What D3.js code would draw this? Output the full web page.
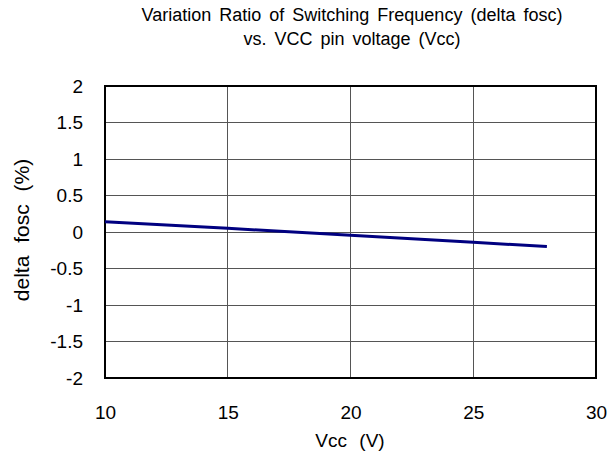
<!DOCTYPE html>
<html><head><meta charset="utf-8">
<script src="https://cdn.jsdelivr.net/npm/d3@7"></script>
<style>body{margin:0;background:#fff}svg{display:block}text{font-family:"Liberation Sans",Arial,sans-serif;fill:#000}</style>
</head><body>
<script>
const vcc = [10, 15, 20, 25, 28];
const deltaFosc = [0.14, 0.05, -0.045, -0.14, -0.2];
const xTicks = [10, 15, 20, 25, 30];
const yTicks = [-2, -1.5, -1, -0.5, 0, 0.5, 1, 1.5, 2];
const titleLines = ["Variation Ratio of Switching Frequency (delta fosc)", "vs. VCC pin voltage (Vcc)"];
const xLabel = "Vcc (V)";
const yLabel = "delta fosc (%)";

const W = 608, H = 466;
const L = 105, R = 596, T = 86, B = 378;
const FONT = '"Liberation Sans",Arial,sans-serif';
const svg = d3.select("body").append("svg").attr("width", W).attr("height", H);
const x = d3.scaleLinear().domain([10, 30]).range([L, R]);
const y = d3.scaleLinear().domain([-2, 2]).range([B, T]);

// gridlines
svg.append("g").selectAll("line").data(xTicks.slice(1, -1)).join("line")
  .attr("x1", d => x(d)).attr("x2", d => x(d)).attr("y1", T).attr("y2", B)
  .attr("stroke", "#555").attr("stroke-width", 1).attr("shape-rendering", "crispEdges");
svg.append("g").selectAll("line").data(yTicks.slice(1, -1)).join("line")
  .attr("x1", L).attr("x2", R).attr("y1", d => y(d)).attr("y2", d => y(d))
  .attr("stroke", "#555").attr("stroke-width", 1).attr("shape-rendering", "crispEdges");

// axes (labels only)
const xAxis = svg.append("g").attr("transform", `translate(0,${B})`)
  .call(d3.axisBottom(x).tickValues(xTicks).tickSize(0).tickPadding(28).tickFormat(d3.format("")));
xAxis.select(".domain").remove();
xAxis.selectAll("text").attr("font-size", 19).style("font-family", FONT);
const yAxis = svg.append("g").attr("transform", `translate(${L},0)`)
  .call(d3.axisLeft(y).tickValues(yTicks).tickSize(0).tickPadding(22).tickFormat(d => String(d)));
yAxis.select(".domain").remove();
yAxis.selectAll("text").attr("font-size", 19).style("font-family", FONT);

// frame
svg.append("rect").attr("x", L).attr("y", T).attr("width", R - L).attr("height", B - T)
  .attr("fill", "none").attr("stroke", "#000").attr("stroke-width", 2);

// data line
svg.append("path").datum(vcc.map((v, i) => [v, deltaFosc[i]]))
  .attr("d", d3.line().x(d => x(d[0])).y(d => y(d[1])))
  .attr("fill", "none").attr("stroke", "#000080").attr("stroke-width", 3);

// titles
svg.append("g").selectAll("text").data(titleLines).join("text")
  .attr("x", 352).attr("y", (d, i) => 21 + i * 24).attr("text-anchor", "middle")
  .attr("font-size", 18).style("word-spacing", "3px").text(d => d);
svg.append("text").attr("x", 350).attr("y", 447).attr("text-anchor", "middle")
  .attr("font-size", 19).style("word-spacing", "7px").text(xLabel);
svg.append("text").attr("transform", `translate(29,230) rotate(-90)`)
  .attr("text-anchor", "middle").attr("font-size", 21).style("word-spacing", "7px").text(yLabel);
</script>
</body></html>
